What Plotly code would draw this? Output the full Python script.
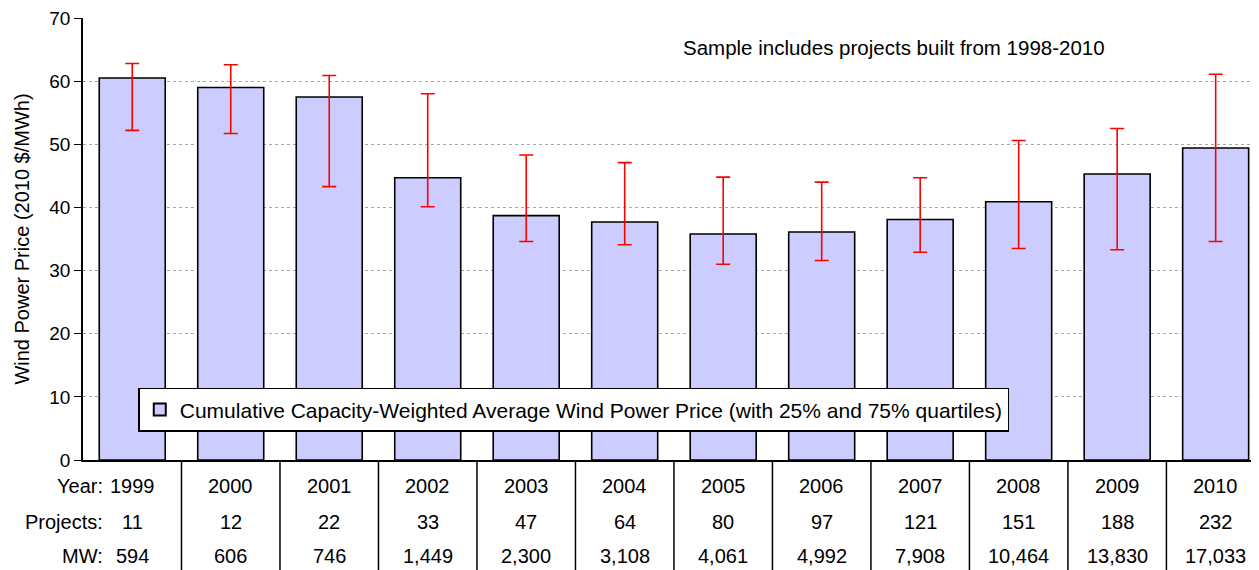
import plotly.graph_objects as go

years = [1999, 2000, 2001, 2002, 2003, 2004, 2005, 2006, 2007, 2008, 2009, 2010]
avg_price = [60.5, 59.0, 57.5, 44.7, 38.7, 37.7, 35.8, 36.1, 38.1, 40.9, 45.3, 49.4]
q75 = [62.8, 62.6, 60.9, 58.0, 48.3, 47.1, 44.8, 44.0, 44.7, 50.6, 52.5, 61.1]
q25 = [52.2, 51.7, 43.3, 40.1, 34.6, 34.1, 31.0, 31.6, 32.9, 33.5, 33.3, 34.6]
projects = ["11", "12", "22", "33", "47", "64", "80", "97", "121", "151", "188", "232"]
mw = ["594", "606", "746", "1,449", "2,300", "3,108", "4,061", "4,992", "7,908", "10,464", "13,830", "17,033"]

FONT = "Arial, Liberation Sans, sans-serif"
FS = 20

fig = go.Figure()
fig.add_trace(go.Bar(
    x=years, y=avg_price,
    name="Cumulative Capacity-Weighted Average Wind Power Price (with 25% and 75% quartiles)",
    marker=dict(color="#CCCCFF", line=dict(color="black", width=1.6)),
    width=0.67,
    error_y=dict(
        type="data", symmetric=False,
        array=[h - v for h, v in zip(q75, avg_price)],
        arrayminus=[v - l for l, v in zip(q25, avg_price)],
        color="#FF0000", thickness=1.6, width=7,
    ),
))

# table under the plot
row_y = [-0.059, -0.140, -0.217]
rows = [[str(y) for y in years], projects, mw]
for ry, vals in zip(row_y, rows):
    for yr, v in zip(years, vals):
        fig.add_annotation(x=yr, y=ry, xref="x", yref="paper", text=v, showarrow=False,
                           xanchor="center", yanchor="middle", font=dict(size=FS, color="black"))
for ry, lab in zip(row_y, ["Year:", "Projects:", "MW:"]):
    fig.add_annotation(x=1998.72, y=ry, xref="x", yref="paper", text=lab, showarrow=False,
                       xanchor="right", yanchor="middle", font=dict(size=FS, color="black"))
for yr in years[:-1]:
    fig.add_shape(type="line", x0=yr + 0.5, x1=yr + 0.5, y0=0, y1=-0.26, xref="x", yref="paper",
                  line=dict(color="black", width=1.5))

fig.add_annotation(x=2006.73, y=65.3, xref="x", yref="y", text="Sample includes projects built from 1998-2010",
                   showarrow=False, xanchor="center", yanchor="middle", font=dict(size=20.5, color="black"))

# page body adds an 8px offset, so the figure is sized/margined to compensate
fig.update_layout(
    width=1251, height=562,
    margin=dict(l=75, r=0, t=10, b=110),
    plot_bgcolor="white", paper_bgcolor="white",
    font=dict(family=FONT, color="black"),
    showlegend=True,
    legend=dict(x=0.047, y=0.163, xanchor="left", yanchor="top",
                bgcolor="white", bordercolor="black", borderwidth=1.5,
                font=dict(size=21), itemsizing="constant"),
    xaxis=dict(range=[1998.5, 2010.44], showticklabels=False, ticks="", showgrid=False,
               showline=True, linecolor="black", linewidth=1.5, zeroline=False,
               fixedrange=True, automargin=False),
    yaxis=dict(range=[0, 70], dtick=10, showline=True, linecolor="black", linewidth=1.5,
               ticks="outside", ticklen=7, tickcolor="black", tickfont=dict(size=19),
               ticklabeloverflow="allow",
               showgrid=True, gridcolor="#A8A8A8", griddash="dot", gridwidth=1, zeroline=False,
               automargin=False,
               title=dict(text="Wind Power Price (2010 $/MWh)", font=dict(size=FS), standoff=14)),
)

fig.write_html("out.html")
